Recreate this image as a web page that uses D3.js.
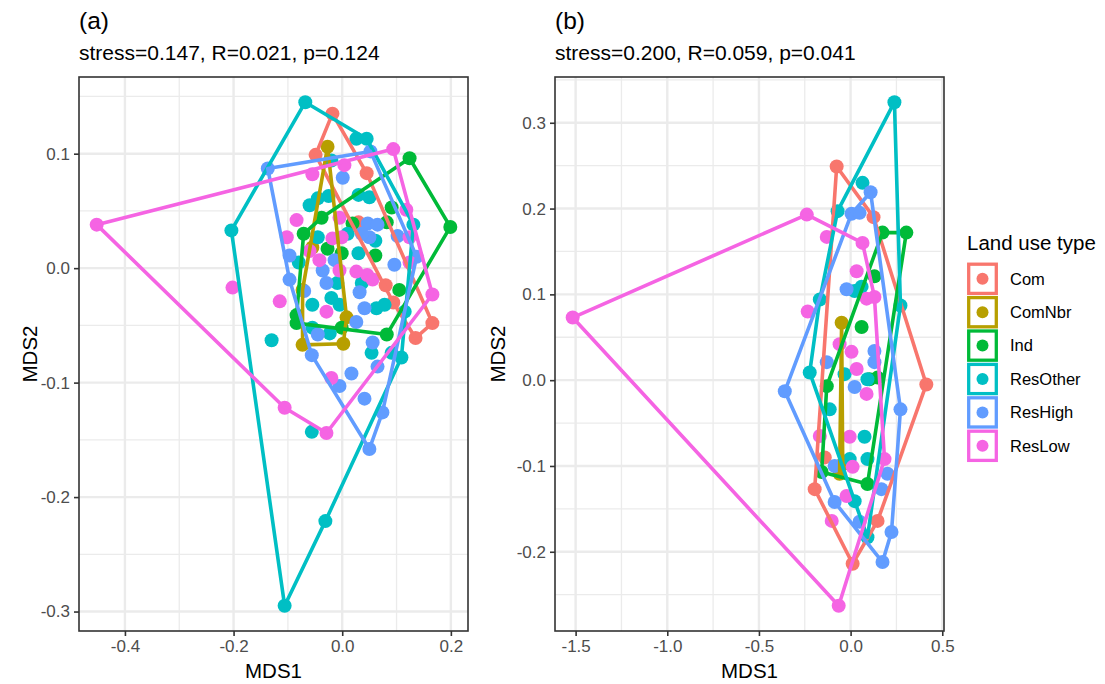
<!DOCTYPE html>
<html>
<head>
<meta charset="utf-8">
<script src="https://cdn.jsdelivr.net/npm/d3@7"></script>
<style>
  body { margin: 0; background: #fff; }
  text { font-family: "Liberation Sans", Arial, sans-serif; }
</style>
</head>
<body>
<svg id="canvas" width="1105" height="684"></svg>
<script>
  let groups = ['Com', 'ComNbr', 'Ind', 'ResOther', 'ResHigh', 'ResLow']
  let colors = ['#F8766D', '#B79F00', '#00BA38', '#00BFC4', '#619CFF', '#F564E3']

  // panel (a) scores [MDS1, MDS2]
  let aCom = [[-0.018,0.135],[-0.049,0.099],[0.045,0.083],[0.080,-0.015],[0.094,-0.030],[0.135,-0.061],[0.166,-0.048],
    [0.030,0.040]]
  let aComNbr = [[-0.027,0.106],[-0.055,0.018],[-0.073,-0.019],[-0.073,-0.067],[0.002,-0.066],[0.008,-0.043]]
  let aInd = [[0.124,0.096],[0.199,0.036],[0.082,-0.058],[-0.084,-0.048],[-0.084,-0.041],[-0.071,0.030],[-0.038,0.044],
    [0.019,0.039],[0.082,0.040],[0.091,0.053],[-0.027,0.017],[-0.001,0.013],[0.061,0.011],[0.105,-0.019],[-0.001,-0.052]]
  let aResOther = [[-0.068,0.145],[0.026,0.113],[0.045,0.113],[-0.020,0.094],[-0.060,0.055],[-0.045,0.061],[-0.025,0.063],
    [0.030,0.064],[0.050,0.062],[0.131,0.038],[-0.045,0.027],[0.061,0.024],[0.030,0.013],[-0.009,-0.013],[0.036,-0.013],
    [-0.055,-0.032],[-0.020,-0.026],[-0.005,-0.032],[0.063,-0.035],[0.078,-0.032],[0.115,-0.038],[-0.055,-0.052],
    [-0.023,-0.057],[-0.130,-0.063],[0.054,-0.074],[0.109,-0.078],[-0.056,-0.143],[-0.031,-0.221],[-0.106,-0.295],[-0.204,0.033],
    [0.091,-0.074],[-0.080,0.005],[0.010,0.030]]
  let aResHigh = [[-0.137,0.087],[0.052,0.102],[0.001,0.079],[0.047,0.039],[0.065,0.038],[0.102,0.028],[0.050,0.027],
    [0.137,0.010],[-0.097,0.011],[-0.014,0.007],[-0.036,-0.002],[0.096,0.003],[-0.097,-0.010],[-0.029,-0.013],[0.032,-0.021],
    [0.041,-0.035],[0.026,-0.047],[-0.045,-0.058],[0.056,-0.065],[-0.056,-0.076],[0.065,-0.086],[0.017,-0.092],
    [-0.005,-0.103],[0.041,-0.114],[0.074,-0.126],[0.050,-0.158],[0.036,0.030],[-0.070,-0.020]]
  let aResLow = [[-0.452,0.038],[0.094,0.104],[0.166,-0.023],[-0.029,-0.144],[-0.106,-0.122],[0.004,0.090],[-0.055,0.082],
    [-0.084,0.042],[-0.005,0.044],[0.118,0.051],[-0.102,0.027],[-0.018,0.026],[-0.001,0.027],[-0.005,-0.002],[0.026,-0.003],
    [0.046,-0.006],[0.056,-0.010],[-0.115,-0.029],[-0.029,-0.038],[-0.020,-0.096],[-0.202,-0.017],[0.124,0.005],[-0.042,0.007],
    [0.124,0.027],[-0.060,0.015]]

  // panel (b) scores
  let bCom = [[-0.076,0.249],[0.125,0.190],[0.413,-0.005],[0.147,-0.164],[0.011,-0.214],[-0.196,-0.127],[-0.141,-0.090]]
  let bComNbr = [[-0.049,0.067],[-0.060,-0.109],[-0.043,-0.098]]
  let bInd = [[0.174,0.172],[0.304,0.172],[0.130,0.121],[0.060,0.062],[0.147,0.003],[-0.130,-0.007],[-0.158,-0.107],
    [0.092,-0.121],[0.103,0.001]]
  let bResOther = [[0.239,0.324],[0.065,0.230],[-0.071,0.197],[-0.168,0.094],[0.060,0.109],[0.022,0.104],[0.272,0.087],
    [-0.223,0.009],[-0.033,0.007],[0.092,0.001],[-0.114,-0.034],[0.076,-0.066],[-0.005,-0.092],[0.092,-0.092],
    [0.022,-0.141],[0.092,-0.183]]
  let bResHigh = [[0.109,0.219],[0.005,0.194],[0.049,0.195],[-0.022,0.106],[-0.130,0.021],[0.130,0.034],[0.130,0.021],
    [-0.359,-0.013],[0.022,-0.008],[0.272,-0.034],[0.201,-0.109],[0.168,-0.127],[-0.087,-0.142],[-0.087,-0.100],
    [0.049,-0.165],[0.223,-0.177],[0.174,-0.212]]
  let bResLow = [[-1.516,0.073],[-0.239,0.193],[-0.130,0.167],[0.065,0.160],[0.033,0.127],[0.087,0.095],[0.130,0.097],
    [-0.234,0.080],[-0.060,0.042],[0.005,0.033],[0.033,0.013],[0.087,-0.016],[-0.168,-0.065],[-0.005,-0.066],
    [0.011,-0.101],[0.185,-0.092],[-0.022,-0.135],[-0.103,-0.164],[-0.065,-0.263]]

  let aXTicks = [-0.4, -0.2, 0.0, 0.2]
  let aYTicks = [-0.3, -0.2, -0.1, 0.0, 0.1]
  let bXTicks = [-1.5, -1.0, -0.5, 0.0, 0.5]
  let bYTicks = [-0.2, -0.1, 0.0, 0.1, 0.2, 0.3]

  let titles = ['(a)', '(b)']
  let subtitles = ['stress=0.147, R=0.021, p=0.124', 'stress=0.200, R=0.059, p=0.041']
  let legendTitle = 'Land use type'

  let canvas = d3.select('#canvas')
  let fmt = (v) => d3.format('.1f')(v).replace('\u2212', '-')

  let drawPanel = (sets, xTicks, yTicks, box, title, subtitle, yTitleX) => {
    let all = sets.flat()
    let expand = (ext) => { let d = (ext[1] - ext[0]) * 0.05; return [ext[0] - d, ext[1] + d] }
    let x = d3.scaleLinear().domain(expand(d3.extent(all, d => d[0]))).range([box.x0, box.x1])
    let y = d3.scaleLinear().domain(expand(d3.extent(all, d => d[1]))).range([box.y1, box.y0])

    let minor = (ticks, dom) => {
      let step = ticks[1] - ticks[0]
      return d3.range(ticks.length + 1).map(i => ticks[0] - step / 2 + i * step)
        .filter(v => v > dom[0] && v < dom[1])
    }

    let g = canvas.append('g')

    // grid
    g.selectAll('.xminor').data(minor(xTicks, x.domain())).enter().append('line')
      .attr('x1', d => x(d)).attr('x2', d => x(d)).attr('y1', box.y0).attr('y2', box.y1)
      .attr('stroke', '#EBEBEB').attr('stroke-width', 1.3)
    g.selectAll('.yminor').data(minor(yTicks, y.domain())).enter().append('line')
      .attr('y1', d => y(d)).attr('y2', d => y(d)).attr('x1', box.x0).attr('x2', box.x1)
      .attr('stroke', '#EBEBEB').attr('stroke-width', 1.3)
    g.selectAll('.xmajor').data(xTicks).enter().append('line')
      .attr('x1', d => x(d)).attr('x2', d => x(d)).attr('y1', box.y0).attr('y2', box.y1)
      .attr('stroke', '#EBEBEB').attr('stroke-width', 2.4)
    g.selectAll('.ymajor').data(yTicks).enter().append('line')
      .attr('y1', d => y(d)).attr('y2', d => y(d)).attr('x1', box.x0).attr('x2', box.x1)
      .attr('stroke', '#EBEBEB').attr('stroke-width', 2.4)

    // points first, hull outlines on top
    sets.forEach((pts, i) => {
      g.append('g').selectAll('circle').data(pts).enter().append('circle')
        .attr('cx', d => x(d[0])).attr('cy', d => y(d[1])).attr('r', 7)
        .attr('fill', colors[i])
    })
    sets.forEach((pts, i) => {
      let hull = d3.polygonHull(pts.map(d => [x(d[0]), y(d[1])]))
      g.append('path')
        .attr('d', 'M' + hull.join('L') + 'Z')
        .attr('fill', 'none')
        .attr('stroke', colors[i])
        .attr('stroke-width', 3.6)
        .attr('stroke-linejoin', 'round')
    })

    // border
    g.append('rect')
      .attr('x', box.x0).attr('y', box.y0)
      .attr('width', box.x1 - box.x0).attr('height', box.y1 - box.y0)
      .attr('fill', 'none').attr('stroke', '#333333').attr('stroke-width', 1.6)

    // axes
    let xAxis = g.append('g').attr('transform', `translate(0,${box.y1})`)
      .call(d3.axisBottom(x).tickValues(xTicks).tickFormat(fmt).tickSize(5).tickPadding(4))
    let yAxis = g.append('g').attr('transform', `translate(${box.x0},0)`)
      .call(d3.axisLeft(y).tickValues(yTicks).tickFormat(fmt).tickSize(5).tickPadding(4))
    ;[xAxis, yAxis].forEach(ax => {
      ax.select('.domain').remove()
      ax.selectAll('line').attr('stroke', '#333333').attr('stroke-width', 1.6)
      ax.selectAll('text').attr('fill', '#4D4D4D').style('font-size', '17px')
        .style('font-family', '"Liberation Sans", Arial, sans-serif')
    })

    g.append('text')
      .attr('x', (box.x0 + box.x1) / 2).attr('y', 678)
      .attr('text-anchor', 'middle').style('font-size', '20.5px')
      .text('MDS1')
    g.append('text')
      .attr('transform', `translate(${yTitleX},${(box.y0 + box.y1) / 2}) rotate(-90)`)
      .attr('text-anchor', 'middle').style('font-size', '20.5px')
      .text('MDS2')

    g.append('text').attr('x', box.x0).attr('y', 29)
      .style('font-size', '24.5px').text(title)
    g.append('text').attr('x', box.x0).attr('y', 60)
      .style('font-size', '21px').text(subtitle)
  }

  drawPanel([aCom, aComNbr, aInd, aResOther, aResHigh, aResLow], aXTicks, aYTicks,
    {x0: 79, x1: 468, y0: 77, y1: 631}, titles[0], subtitles[0], 37)
  drawPanel([bCom, bComNbr, bInd, bResOther, bResHigh, bResLow], bXTicks, bYTicks,
    {x0: 555, x1: 944, y0: 77, y1: 631}, titles[1], subtitles[1], 505)

  // legend
  let legend = canvas.append('g')
  legend.append('text').attr('x', 967).attr('y', 250)
    .style('font-size', '20.5px').text(legendTitle)
  let keyTop = 262.5, keyH = 33.4
  let keys = legend.selectAll('.key').data(groups).enter().append('g')
    .attr('transform', (d, i) => `translate(967,${keyTop + i * keyH})`)
  keys.append('rect')
    .attr('x', 1.7).attr('y', 1.7).attr('width', 27.6).attr('height', 29.2)
    .attr('fill', '#fff')
    .attr('stroke', (d, i) => colors[i]).attr('stroke-width', 3.3)
  keys.append('circle')
    .attr('cx', 15.5).attr('cy', 16.3).attr('r', 6)
    .attr('fill', (d, i) => colors[i])
  keys.append('text')
    .attr('x', 43).attr('y', 16.3).attr('dy', '0.35em')
    .style('font-size', '16.5px').attr('fill', '#000')
    .text(d => d)
</script>
</body>
</html>
